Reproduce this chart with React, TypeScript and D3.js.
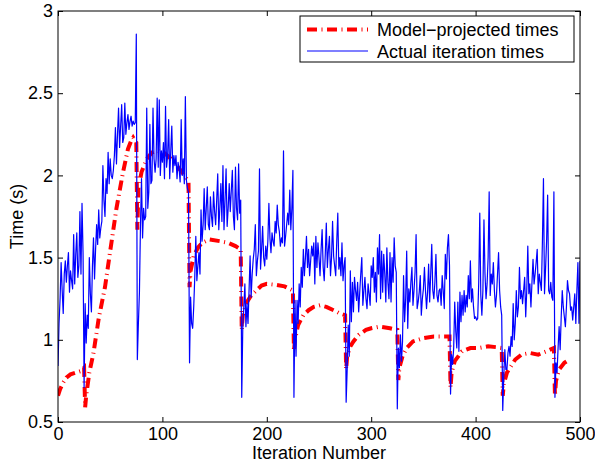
import React, { useRef, useEffect } from "react";
import * as d3 from "d3";

// tick labels
const xTicks = [0, 100, 200, 300, 400, 500];
const yTicks = [0.5, 1, 1.5, 2, 2.5, 3];
const seriesNames = ["Model\u2212projected times", "Actual iteration times"];

// measured time of every iteration (index = iteration number)
const actualTimes = [
  0.84, 1.10, 1.25, 1.47, 1.30, 1.16, 1.40, 1.48, 1.35, 1.45,
  1.53, 1.29, 1.42, 1.36, 1.31, 1.64, 1.34, 1.52, 1.65, 1.38,
  1.45, 1.78, 1.40, 1.83, 1.53, 0.71,
  1.22, 0.98, 1.15, 1.07, 1.50, 1.28, 1.17, 1.45, 1.62, 1.37,
  1.55, 1.70, 1.58, 1.79, 1.62, 1.68, 1.72, 2.06, 1.85, 1.75,
  1.98, 1.89, 2.14, 1.95, 2.10, 2.00, 1.98, 2.03, 2.12, 2.29,
  2.07, 2.25, 2.41, 2.17, 2.30, 2.43, 2.20, 2.23, 2.44, 2.25,
  2.32, 2.37, 2.28, 2.33, 2.36, 2.30, 2.33, 2.31, 2.32, 2.86,
  0.88, 1.10, 1.29, 1.70, 1.98, 1.62, 1.80, 1.73, 1.75, 2.41,
  1.80, 1.90, 2.31, 1.95, 1.97, 2.41, 2.10, 2.02, 2.10, 2.47,
  2.05, 2.46, 2.00, 2.15, 2.08, 2.20, 1.98, 2.42, 2.05, 2.12,
  2.34, 1.98, 2.15, 2.30, 2.02, 2.12, 2.06, 2.12, 1.98, 2.08,
  2.04, 1.96, 2.34, 2.00, 2.10, 1.95, 2.48, 1.97, 1.92, 1.90,
  0.86,
  1.26, 1.10, 1.07, 1.20, 1.38, 1.63, 1.36, 1.45, 1.53, 1.40,
  1.79, 1.60, 1.70, 1.92, 1.67, 1.80, 1.93, 1.70, 1.67, 1.87,
  1.75, 1.69, 1.90, 1.78, 1.70, 1.85, 2.01, 1.67, 1.80, 1.95,
  1.72, 2.06, 1.67, 1.85, 2.04, 1.69, 1.80, 1.95, 1.78, 1.91,
  2.03, 1.75, 1.67, 2.05, 1.80, 1.73, 2.07, 1.77, 1.85, 0.65,
  1.08, 1.20, 1.34, 1.08, 1.22, 1.10, 1.30, 1.51, 1.26, 1.40,
  1.49, 1.55, 1.70, 1.39, 1.48, 1.54, 2.04, 1.43, 1.55, 1.69,
  1.50, 1.45, 1.57, 1.49, 1.60, 1.83, 1.62, 1.53, 1.65, 1.60,
  1.57, 1.72, 1.65, 1.82, 1.70, 1.66, 1.57, 1.62, 1.59, 2.15,
  1.57, 1.63, 1.70, 1.77, 1.70, 1.91, 1.67, 1.80, 2.03, 0.65,
  1.24, 0.90, 1.24, 1.10, 1.34, 1.20, 1.44, 1.32, 1.55, 1.39,
  1.50, 1.63, 1.44, 1.55, 1.39, 1.48, 1.57, 1.51, 1.59, 1.34,
  1.63, 1.44, 1.59, 1.50, 1.39, 1.55, 1.67, 1.44, 1.36, 1.52,
  1.71, 1.44, 1.55, 1.63, 1.39, 1.50, 1.72, 1.51, 1.45, 1.39,
  1.60, 1.77, 1.43, 1.50, 1.39, 1.59, 1.36, 1.45, 1.50, 0.62,
  0.82, 1.09, 0.90, 1.42, 1.11, 1.35, 1.17, 1.38, 1.30, 1.24,
  1.35, 1.17, 1.29, 1.40, 1.50, 1.21, 1.30, 1.38, 1.25, 1.19,
  1.34, 1.28, 1.21, 1.45, 1.38, 1.50, 1.29, 1.41, 1.23, 1.56,
  1.40, 1.64, 1.25, 1.54, 1.29, 1.52, 1.40, 1.23, 1.56, 1.35,
  1.25, 1.53, 1.23, 1.50, 1.35, 1.62, 1.45, 1.41, 0.58,
  0.95, 0.83, 1.03, 0.87, 0.99, 1.39, 1.11, 1.25, 1.54, 1.07,
  1.31, 1.23, 1.35, 1.44, 1.21, 1.30, 1.41, 1.64, 1.19, 1.23,
  1.29, 1.39, 1.15, 1.25, 1.31, 1.44, 1.30, 1.19, 1.29, 1.46,
  1.23, 1.40, 1.58, 1.30, 1.25, 1.35, 1.52, 1.27, 1.23, 1.30,
  1.31, 1.21, 1.39, 1.30, 1.19, 1.52, 1.37, 1.56, 1.64, 1.45,
  0.67,
  0.91, 0.85, 0.95, 1.23, 1.05, 0.95, 1.23, 0.93, 1.29, 1.11,
  1.27, 1.15, 1.30, 1.17, 1.27, 1.20, 1.39, 1.25, 1.48, 1.23,
  1.31, 1.20, 1.13, 1.14, 1.12, 1.13, 1.35, 1.77, 1.27, 1.15,
  1.30, 1.73, 1.40, 1.25, 1.34, 1.50, 1.90, 1.27, 1.40, 1.34,
  1.47, 1.30, 1.20, 1.27, 1.40, 1.53, 1.30, 1.20, 1.15, 0.57,
  0.78, 0.94, 0.82, 0.82, 0.92, 0.96, 0.90, 1.02, 0.96, 1.22,
  1.00, 1.10, 1.30, 1.14, 1.20, 1.44, 1.25, 1.30, 1.22, 1.30,
  1.38, 1.14, 1.30, 1.57, 1.28, 1.34, 1.20, 1.35, 1.49, 1.34,
  1.40, 1.47, 1.55, 1.28, 1.40, 1.35, 1.30, 1.60, 1.98, 1.28,
  1.43, 1.60, 1.88, 1.30, 1.28, 1.35, 1.26, 1.24, 1.90, 0.65,
  0.86, 0.80, 0.95, 1.08, 0.94, 1.14, 1.30, 1.20, 1.14, 1.08,
  1.20, 1.36, 1.30, 1.28, 1.18, 1.20, 1.12, 1.20, 1.28, 1.10,
  1.30, 1.47, 1.10, 1.48,
];

// model projection, read at the iterations where its shape changes
const modelIters = [
  0, 2, 5, 8, 12, 17, 22, 25, 26, 27, 30, 34, 39, 45, 50, 56, 62, 67, 70, 72, 75,
  76, 77, 80, 85, 90, 95, 101, 105, 110, 115, 120, 125,
  126, 127, 130, 134, 138, 145, 155, 163, 170, 175,
  176, 177, 180, 185, 190, 195, 200, 208, 217, 225,
  226, 227, 230, 235, 240, 245, 251, 257, 264, 270, 275,
  276, 277, 280, 283, 288, 295, 300, 308, 318, 325,
  326, 327, 330, 334, 340, 350, 360, 372, 375,
  376, 377, 380, 387, 395, 403, 412, 420, 425,
  426, 427, 430, 438, 444, 452, 460, 468, 475,
  476, 477, 480, 485, 490,
];
const modelTimes = [
  0.66, 0.70, 0.74, 0.77, 0.79, 0.80, 0.81, 0.83, 0.59, 0.66, 0.80, 0.92, 1.13, 1.32, 1.54, 1.80, 2.01, 2.16, 2.21, 2.23, 2.20,
  1.67, 1.92, 2.02, 2.10, 2.14, 2.15, 2.14, 2.12, 2.09, 2.05, 2.01, 1.96,
  1.32, 1.42, 1.51, 1.56, 1.59, 1.61, 1.60, 1.59, 1.57, 1.55,
  1.06, 1.15, 1.22, 1.27, 1.30, 1.33, 1.34, 1.335, 1.325, 1.30,
  0.93, 1.00, 1.09, 1.15, 1.18, 1.20, 1.21, 1.20, 1.18, 1.16, 1.15,
  0.82, 0.90, 0.96, 0.99, 1.03, 1.06, 1.07, 1.08, 1.07, 1.06,
  0.755, 0.83, 0.90, 0.95, 0.99, 1.01, 1.02, 1.02, 1.02,
  0.71, 0.80, 0.87, 0.93, 0.95, 0.95, 0.96, 0.955, 0.95,
  0.66, 0.73, 0.80, 0.88, 0.91, 0.92, 0.91, 0.93, 0.95,
  0.66, 0.75, 0.82, 0.86, 0.88,
];

const width = 595;
const height = 463;
const margin = { top: 11, right: 15, bottom: 41, left: 58 };
const font = "'Liberation Sans', Arial, Helvetica, sans-serif";
const fontSize = 18;

const App = () => {
  const sPlot = useRef(null);

  useEffect(() => {
    const svg = d3.select(sPlot.current);
    svg.selectAll("*").remove();

    const x = d3.scaleLinear([0, 500], [margin.left, width - margin.right]);
    const y = d3.scaleLinear([0.5, 3], [height - margin.bottom, margin.top]);
    const plotW = width - margin.left - margin.right;
    const plotH = height - margin.top - margin.bottom;

    svg.append("rect").attr("width", width).attr("height", height).attr("fill", "#fff");

    svg.append("clipPath").attr("id", "plotclip")
      .append("rect")
      .attr("x", margin.left).attr("y", margin.top)
      .attr("width", plotW).attr("height", plotH);

    // model curve (thick dash-dot) then the measured times on top
    const modelLine = d3.line()
      .x((d, i) => x(modelIters[i]))
      .y(d => y(d));
    svg.append("path")
      .attr("clip-path", "url(#plotclip)")
      .attr("fill", "none")
      .attr("stroke", "#ff0000")
      .attr("stroke-width", 4)
      .attr("stroke-dasharray", "10,4.5,1,4.5")
      .attr("d", modelLine(modelTimes));

    const actualLine = d3.line()
      .x((d, i) => x(i))
      .y(d => y(d));
    svg.append("path")
      .attr("clip-path", "url(#plotclip)")
      .attr("fill", "none")
      .attr("stroke", "#0000ff")
      .attr("stroke-width", 1.2)
      .attr("stroke-linejoin", "round")
      .attr("d", actualLine(actualTimes));

    // axes, ticks pointing inward on all four sides
    const styleAxis = g => {
      g.select(".domain").remove();
      g.selectAll(".tick line").attr("stroke", "#000");
      g.selectAll("text")
        .attr("fill", "#000")
        .style("font-family", font)
        .style("font-size", fontSize + "px");
    };

    svg.append("g")
      .attr("transform", `translate(0,${height - margin.bottom})`)
      .call(d3.axisBottom(x).tickValues(xTicks).tickSize(-5).tickPadding(5).tickFormat(d3.format("d")))
      .call(styleAxis);
    svg.append("g")
      .attr("transform", `translate(0,${margin.top})`)
      .call(d3.axisTop(x).tickValues(xTicks).tickSize(-5).tickFormat(() => ""))
      .call(styleAxis);
    svg.append("g")
      .attr("transform", `translate(${margin.left},0)`)
      .call(d3.axisLeft(y).tickValues(yTicks).tickSize(-5).tickPadding(5).tickFormat(d => String(d)))
      .call(styleAxis);
    svg.append("g")
      .attr("transform", `translate(${width - margin.right},0)`)
      .call(d3.axisRight(y).tickValues(yTicks).tickSize(-5).tickFormat(() => ""))
      .call(styleAxis);

    svg.append("rect")
      .attr("x", margin.left).attr("y", margin.top)
      .attr("width", plotW).attr("height", plotH)
      .attr("fill", "none").attr("stroke", "#000").attr("stroke-width", 1);

    // axis labels
    svg.append("text")
      .attr("x", (margin.left + width - margin.right) / 2)
      .attr("y", 459)
      .attr("text-anchor", "middle")
      .style("font-family", font).style("font-size", fontSize + "px")
      .text("Iteration Number");
    svg.append("text")
      .attr("transform", `translate(23,${(margin.top + height - margin.bottom) / 2}) rotate(-90)`)
      .attr("text-anchor", "middle")
      .style("font-family", font).style("font-size", fontSize + "px")
      .text("Time (s)");

    // legend
    const lg = svg.append("g");
    lg.append("rect")
      .attr("x", 300).attr("y", 16).attr("width", 274).attr("height", 46)
      .attr("fill", "#fff").attr("stroke", "#000").attr("stroke-width", 1);
    const legendStyles = [
      { color: "#ff0000", w: 4, dash: "10,4.5,1,4.5" },
      { color: "#0000ff", w: 1.2, dash: null },
    ];
    seriesNames.forEach((name, i) => {
      const ly = 29.5 + i * 21.5;
      lg.append("line")
        .attr("x1", 307).attr("x2", 368).attr("y1", ly).attr("y2", ly)
        .attr("stroke", legendStyles[i].color)
        .attr("stroke-width", legendStyles[i].w)
        .attr("stroke-dasharray", legendStyles[i].dash);
      lg.append("text")
        .attr("x", 377).attr("y", ly + 6.5)
        .style("font-family", font).style("font-size", fontSize + "px")
        .text(name);
    });
  }, []);

  return (
    <svg ref={sPlot} width={width} height={height}
      style={{ position: "absolute", left: 0, top: 0 }}>
    </svg>
  );
};

export default App;
